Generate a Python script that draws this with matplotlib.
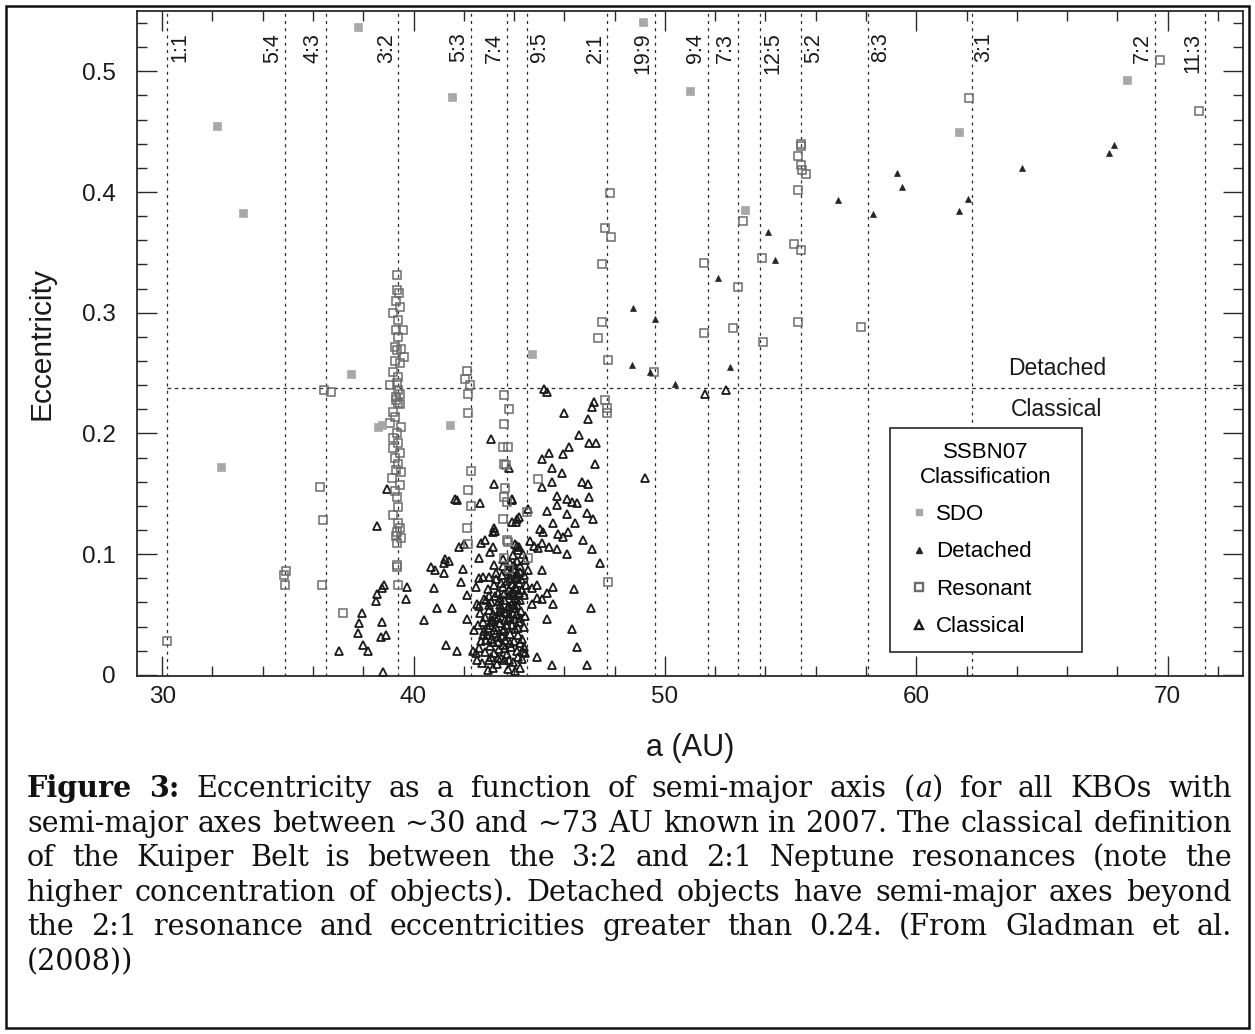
import matplotlib
matplotlib.use('Agg')
import matplotlib.pyplot as plt
import matplotlib.transforms as mtransforms
from matplotlib.lines import Line2D
from matplotlib.patches import Rectangle
from matplotlib.ticker import MultipleLocator, FuncFormatter

SANS = 'Liberation Sans'
SERIF = 'DejaVu Serif'

# ---- data ----
res_labels = ['1:1', '5:4', '4:3', '3:2', '5:3', '7:4', '9:5', '2:1', '19:9', '9:4',
              '7:3', '12:5', '5:2', '8:3', '3:1', '7:2', '11:3']
res_a = [30.2, 34.9, 36.5, 39.4, 42.3, 43.7, 44.5, 47.7, 49.6, 51.7,
         52.9, 53.8, 55.4, 58.1, 62.2, 69.5, 71.5]
divide_e = 0.238

sdo_a = [32.2, 33.2, 37.8, 41.55, 49.15, 51.0, 53.2, 61.7, 68.4, 32.35, 37.5, 38.6,
         38.75, 41.45, 44.7]
sdo_e = [0.455, 0.383, 0.537, 0.479, 0.541, 0.484, 0.385, 0.450, 0.493, 0.172, 0.249, 0.205,
         0.207, 0.207, 0.266]

det_a = [54.1, 54.4, 52.1, 48.75, 49.6, 56.9, 59.25, 59.45, 58.3, 62.05, 61.7, 64.2,
         67.85, 67.65, 48.7, 49.4, 50.4, 52.6]
det_e = [0.367, 0.344, 0.329, 0.304, 0.295, 0.393, 0.416, 0.404, 0.382, 0.394, 0.384, 0.420,
         0.439, 0.432, 0.257, 0.251, 0.241, 0.255]

res_obj_a = [
    30.2, 34.86, 34.94, 34.9, 36.45, 36.7, 36.3, 36.4, 36.37, 37.2,
    # 3:2
    39.36, 39.33, 39.42, 39.2, 39.4, 39.6, 39.3, 39.4, 39.25, 39.36, 39.63, 39.47,
    39.2, 39.4, 39.08, 39.36, 39.4, 39.3, 39.4, 39.47, 39.2, 39.28, 39.08, 39.36,
    39.2, 39.4, 39.2, 39.47, 39.28, 39.4, 39.15, 39.47, 39.36, 39.38, 39.2, 39.4,
    39.36, 39.5, 39.36, 39.36, 39.4, 39.36, 39.45, 39.3, 39.5, 39.25, 39.45, 39.3,
    39.5, 39.3, 39.5, 39.25, 39.45, 39.3,
    # 5:3
    42.14, 42.05, 42.26, 42.18, 42.18, 42.3, 42.18, 42.3, 42.14, 42.18,
    # 7:4
    43.6, 43.78, 43.6, 43.57, 43.74, 43.6, 43.68, 43.65, 43.6, 43.7, 43.57, 43.7,
    43.74, 43.6, 43.78,
    # 9:5
    44.5, 44.97, 44.55,
    # 2:1
    47.8, 47.6, 47.85, 47.5, 47.5, 47.35, 47.75, 47.6, 47.7, 47.7, 47.73,
    # outer resonances
    49.55, 51.55, 51.55, 53.1, 52.9, 52.7, 53.85, 53.9,
    55.4, 55.4, 55.3, 55.4, 55.45, 55.6, 55.3, 55.15, 55.4, 55.3,
    57.8, 62.1, 69.7, 71.25]
res_obj_e = [
    0.028, 0.083, 0.086, 0.074, 0.236, 0.234, 0.156, 0.128, 0.074, 0.051,
    0.331, 0.319, 0.316, 0.300, 0.294, 0.286, 0.286, 0.280, 0.272, 0.269, 0.263, 0.258,
    0.251, 0.247, 0.240, 0.242, 0.236, 0.230, 0.225, 0.224, 0.218, 0.214, 0.209, 0.200,
    0.196, 0.192, 0.188, 0.184, 0.180, 0.175, 0.163, 0.157, 0.147, 0.139, 0.132, 0.126,
    0.118, 0.113, 0.109, 0.091, 0.074, 0.089, 0.305, 0.310, 0.270, 0.260, 0.233, 0.228,
    0.205, 0.170, 0.168, 0.152, 0.122, 0.115,
    0.252, 0.245, 0.240, 0.233, 0.217, 0.169, 0.153, 0.140, 0.122, 0.108,
    0.232, 0.220, 0.208, 0.189, 0.189, 0.175, 0.174, 0.155, 0.147, 0.143, 0.129, 0.112,
    0.110, 0.097, 0.088,
    0.135, 0.162, 0.097,
    0.399, 0.370, 0.363, 0.340, 0.292, 0.279, 0.261, 0.228, 0.221, 0.217, 0.077,
    0.251, 0.341, 0.283, 0.376, 0.321, 0.287, 0.345, 0.276,
    0.438, 0.440, 0.430, 0.422, 0.418, 0.415, 0.402, 0.357, 0.352, 0.292,
    0.288, 0.478, 0.509, 0.467]

cls_a = [
    # scattered, inner side
    37.05, 37.8, 37.85, 37.96, 38.0, 38.2, 38.5, 38.55, 38.76, 38.84, 38.76, 38.7,
    38.9, 38.8, 38.56, 38.96, 39.75, 39.7, 40.4, 40.8, 40.95, 41.55, 41.3, 41.75,
    40.7, 40.87, 41.2, 41.27, 41.4, 41.2, 41.65, 41.72, 41.8, 42.0, 41.95, 41.9,
    42.14, 42.5, 42.6, 42.66, 43.1, 43.2, 43.8, 43.93, 42.6, 42.75, 43.0, 42.54,
    42.62, 42.9, 43.0, 42.14, 42.4, 42.35, 42.5, 42.54, 43.0, 43.18, 43.6, 44.25,
    43.2, 43.15, 43.25, 43.15, 44.2, 44.06, 43.93, 44.2, 44.13, 42.85, 43.05, 42.7,
    # scattered, outer side
    45.2, 45.3, 45.97, 47.2, 47.1, 46.96, 46.57, 46.2, 47.0, 47.28, 45.4, 45.13,
    45.96, 45.5, 45.9, 47.24, 45.13, 45.5, 46.7, 46.96, 43.9, 45.7, 46.1, 46.3,
    46.5, 47.0, 45.33, 45.7, 46.1, 46.9, 47.16, 44.57, 44.1, 45.56, 46.44, 45.05,
    45.17, 45.76, 45.96, 46.16, 46.76, 47.1, 47.4, 45.4, 45.7, 46.1, 45.13, 44.8,
    44.96, 44.65, 45.1, 44.7, 44.9, 45.56, 46.4, 44.9, 45.3, 44.7, 45.1, 45.56,
    47.08, 45.33, 46.3, 46.5, 44.9, 45.5, 46.9, 44.25, 44.57, 44.4, 44.35, 44.17,
    49.2, 51.6, 52.45,
    # dense core
    42.72, 42.95, 43.32, 43.48, 43.75, 43.95, 44.05, 44.3, 43.1,
    42.62, 42.85, 43.05, 43.22, 43.4, 43.58, 43.72, 43.88, 44.1, 44.22, 44.45,
    42.7, 42.92, 43.1, 43.27, 43.35, 43.52, 43.66, 43.82, 43.98, 44.15, 44.32, 42.8,
    42.55, 42.76, 42.98, 43.12, 43.3, 43.45, 43.6, 43.74, 43.9, 44.04, 44.2, 44.4, 43.2,
    42.66, 42.85, 43.02, 43.18, 43.36, 43.5, 43.68, 43.85, 43.97, 44.1, 44.28, 44.45, 43.42,
    42.8, 43.08, 43.26, 43.44, 43.62, 43.78, 43.92, 44.02, 44.12, 44.25, 44.4, 43.95,
    42.95, 43.2, 43.38, 43.58, 43.8, 43.9, 44.0, 44.08, 44.18, 44.32, 44.48,
    43.3, 43.52, 43.72, 43.88, 44.02, 44.12, 44.26, 44.38,
    43.55, 43.82, 44.0, 44.1, 44.24, 44.42,
    43.95, 44.15, 44.35, 44.05,
    43.15, 43.35, 43.55, 43.7, 43.85, 44.0, 44.15, 43.25, 43.45, 43.65,
    43.8, 43.95, 44.1, 43.05, 43.4, 43.6, 43.75, 43.9, 44.05, 44.2,
    43.3, 43.5, 43.7, 43.85, 44.0, 43.2, 43.55, 43.9, 44.1, 43.65,
    42.9, 43.1, 42.75, 43.0, 43.35, 43.8, 44.25, 44.0, 43.6, 43.45]
cls_e = [
    0.020, 0.035, 0.043, 0.051, 0.025, 0.020, 0.061, 0.067, 0.072, 0.074, 0.044, 0.031,
    0.033, 0.002, 0.123, 0.154, 0.073, 0.063, 0.045, 0.072, 0.055, 0.055, 0.025, 0.020,
    0.089, 0.087, 0.084, 0.096, 0.094, 0.093, 0.146, 0.145, 0.106, 0.108, 0.088, 0.077,
    0.066, 0.073, 0.097, 0.142, 0.195, 0.158, 0.171, 0.145, 0.080, 0.081, 0.081, 0.059,
    0.057, 0.062, 0.065, 0.046, 0.037, 0.020, 0.018, 0.012, 0.012, 0.006, 0.012, 0.006,
    0.122, 0.118, 0.119, 0.106, 0.131, 0.127, 0.127, 0.106, 0.107, 0.112, 0.102, 0.109,
    0.237, 0.234, 0.217, 0.226, 0.222, 0.212, 0.199, 0.189, 0.192, 0.192, 0.184, 0.179,
    0.183, 0.171, 0.167, 0.175, 0.156, 0.160, 0.160, 0.158, 0.146, 0.148, 0.146, 0.143,
    0.142, 0.147, 0.136, 0.141, 0.133, 0.134, 0.129, 0.137, 0.129, 0.126, 0.126, 0.121,
    0.118, 0.117, 0.114, 0.118, 0.112, 0.104, 0.093, 0.106, 0.104, 0.100, 0.109, 0.107,
    0.105, 0.111, 0.087, 0.072, 0.074, 0.073, 0.071, 0.064, 0.068, 0.059, 0.063, 0.059,
    0.055, 0.046, 0.038, 0.023, 0.015, 0.008, 0.008, 0.085, 0.087, 0.023, 0.019, 0.015,
    0.163, 0.233, 0.236,
    0.010, 0.004, 0.009, 0.014, 0.005, 0.011, 0.003, 0.013, 0.015,
    0.022, 0.019, 0.024, 0.018, 0.021, 0.025, 0.017, 0.023, 0.020, 0.026, 0.018,
    0.028, 0.033, 0.030, 0.035, 0.027, 0.032, 0.029, 0.034, 0.028, 0.033, 0.030, 0.036,
    0.041, 0.044, 0.039, 0.045, 0.040, 0.043, 0.038, 0.046, 0.041, 0.038, 0.044, 0.040, 0.037,
    0.051, 0.048, 0.054, 0.050, 0.047, 0.055, 0.051, 0.048, 0.055, 0.050, 0.053, 0.049, 0.052,
    0.063, 0.060, 0.065, 0.058, 0.062, 0.066, 0.059, 0.064, 0.058, 0.062, 0.066, 0.066,
    0.071, 0.074, 0.068, 0.073, 0.070, 0.075, 0.068, 0.072, 0.076, 0.070, 0.074,
    0.079, 0.083, 0.078, 0.085, 0.080, 0.084, 0.079, 0.083,
    0.090, 0.093, 0.088, 0.094, 0.090, 0.095,
    0.099, 0.103, 0.100, 0.108,
    0.027, 0.031, 0.036, 0.041, 0.026, 0.046, 0.039, 0.048, 0.054, 0.045,
    0.057, 0.050, 0.062, 0.041, 0.061, 0.067, 0.056, 0.069, 0.073, 0.068,
    0.084, 0.076, 0.086, 0.079, 0.091, 0.091, 0.096, 0.083, 0.081, 0.022,
    0.029, 0.044, 0.033, 0.058, 0.014, 0.012, 0.047, 0.058, 0.052, 0.064]

caption = [
    'Figure 3: Eccentricity as a function of semi-major axis (a) for all KBOs with',
    'semi-major axes between ~30 and ~73 AU known in 2007. The classical definition',
    'of the Kuiper Belt is between the 3:2 and 2:1 Neptune resonances (note the',
    'higher concentration of objects). Detached objects have semi-major axes beyond',
    'the 2:1 resonance and eccentricities greater than 0.24. (From Gladman et al.',
    '(2008))',
]

# ---- styles ----
W, H = 1255, 1034
SDO_C = '#a8a8a8'
RES_C = '#6c6c6c'
CLS_C = '#1a1a1a'
DET_C = '#262626'
LINE_C = '#2a2a2a'
LABEL_RIGHT = {'1:1', '9:5', '12:5', '5:2', '8:3', '3:1'}

fig = plt.figure(figsize=(W / 100, H / 100), dpi=100)
ax = fig.add_axes([137 / W, 1 - 676 / H, (1243 - 137) / W, (676 - 11) / H])

for a in res_a:
    ax.axvline(a, color=LINE_C, lw=0.9, ls=(0, (2.4, 3.4)), zorder=1)
ax.hlines(divide_e, res_a[0], 73, color=LINE_C, lw=0.9, ls=(0, (2.9, 2.9)), zorder=1)

ax.plot(cls_a, cls_e, ls='none', marker='^', ms=5.8, mfc='none', mec=CLS_C, mew=1.3, zorder=3)
ax.plot(res_obj_a, res_obj_e, ls='none', marker='s', ms=6.0, mfc='none', mec=RES_C, mew=1.1, zorder=4)
ax.plot(det_a, det_e, ls='none', marker='^', ms=4.4, mfc=DET_C, mec=DET_C, mew=0.5, zorder=5)
ax.plot(sdo_a, sdo_e, ls='none', marker='s', ms=5.6, mfc=SDO_C, mec=SDO_C, mew=0.5, zorder=5)

for a, lab in zip(res_a, res_labels):
    right = lab in LABEL_RIGHT
    tr = mtransforms.offset_copy(ax.transData, fig=fig, x=1.5 if right else -1.2, y=0, units='points')
    ax.text(a, 0.532, lab, rotation=90, ha='left' if right else 'right', va='top',
            transform=tr, fontsize=15.5, family=SANS, color='#1a1a1a')

ax.text(65.6, 0.2535, 'Detached', ha='center', va='center', fontsize=16.5, family=SANS, color='#1a1a1a')
ax.text(65.6, 0.220, 'Classical', ha='center', va='center', fontsize=16.5, family=SANS, color='#1a1a1a')

ax.set_xlim(29, 73)
ax.set_ylim(-0.001, 0.55)
ax.xaxis.set_major_locator(MultipleLocator(10))
ax.xaxis.set_minor_locator(MultipleLocator(2))
ax.yaxis.set_major_locator(MultipleLocator(0.1))
ax.yaxis.set_minor_locator(MultipleLocator(0.02))
ax.yaxis.set_major_formatter(FuncFormatter(lambda v, p: '0' if abs(v) < 1e-9 else f'{v:.1f}'))
ax.tick_params(which='both', direction='in', top=True, right=True, color='#2a2a2a', width=1.0,
               labelsize=17.5, labelcolor='#1a1a1a')
ax.tick_params(which='major', length=14.5)
ax.tick_params(which='minor', length=7.2)
ax.tick_params(axis='x', pad=7)
ax.tick_params(axis='y', pad=15.5)
for lbl in ax.get_xticklabels() + ax.get_yticklabels():
    lbl.set_family(SANS)
for sp in ax.spines.values():
    sp.set_color('#2a2a2a')
    sp.set_linewidth(1.3)

ax.set_xlabel('a (AU)', fontsize=22, family=SANS, color='#1a1a1a')
ax.xaxis.set_label_coords(0.5, -0.0855)
ax.set_ylabel('Eccentricity', fontsize=21.5, family=SANS, color='#1a1a1a')
ax.yaxis.set_label_coords(-0.074, 0.5)

handles = [
    Line2D([], [], ls='none', marker='s', ms=5.0, mfc=SDO_C, mec=SDO_C, label='SDO'),
    Line2D([], [], ls='none', marker='^', ms=4.4, mfc=DET_C, mec=DET_C, label='Detached'),
    Line2D([], [], ls='none', marker='s', ms=5.4, mfc='none', mec=RES_C, mew=1.7, label='Resonant'),
    Line2D([], [], ls='none', marker='^', ms=5.6, mfc='none', mec=CLS_C, mew=1.7, label='Classical'),
]
leg = ax.legend(handles=handles, title='SSBN07\nClassification', loc='upper left',
                bbox_to_anchor=(0.681, 0.036, 0.173, 0.337), mode='expand', borderaxespad=0,
                borderpad=0.65, handlelength=1.3, handletextpad=0.12, labelspacing=0.74,
                prop={'family': SANS, 'size': 16}, title_fontproperties={'family': SANS, 'size': 16},
                frameon=True, fancybox=False, framealpha=1, edgecolor='#2a2a2a')
leg.get_frame().set_linewidth(1.2)
leg.get_title().set_multialignment('center')

# ---- caption, justified line by line ----
renderer = fig.canvas.get_renderer()
special = {'Figure': [('Figure', 'bold', 'normal')], '3:': [('3:', 'bold', 'normal')],
           '(a)': [('(', 'normal', 'normal'), ('a', 'normal', 'italic'), (')', 'normal', 'normal')]}


def seg_width(text, weight, style, size):
    t = fig.text(0, 0, text, fontsize=size, family=SERIF, weight=weight, style=style)
    w = t.get_window_extent(renderer).width
    t.remove()
    return w


def line_segments(i, line):
    out = []
    for w in line.split(' '):
        if i == 0 and w in special:
            out.append(special[w])
        else:
            out.append([(w, 'normal', 'normal')])
    return out


left, right = 27, 1232
first_base, line_step = 797, 34.6

# pick the font size so that the longest line sits at its natural word spacing
base_fs = 20
sp_base = seg_width('a a', 'normal', 'normal', base_fs) - 2 * seg_width('a', 'normal', 'normal', base_fs)
natural = []
for i, line in enumerate(caption[:-1]):
    segs = line_segments(i, line)
    natural.append(sum(seg_width(*s, base_fs) for ws in segs for s in ws) + sp_base * (len(segs) - 1))
CAP_FS = base_fs * (right - left) / max(natural) * 0.995
space_w = sp_base * CAP_FS / base_fs

for i, line in enumerate(caption):
    segs = line_segments(i, line)
    widths = [sum(seg_width(*s, CAP_FS) for s in ws) for ws in segs]
    if i < len(caption) - 1:
        gap = (right - left - sum(widths)) / (len(segs) - 1)
    else:
        gap = space_w
    x = left
    y = first_base + i * line_step
    for ws, wd in zip(segs, widths):
        xx = x
        for text, weight, style in ws:
            fig.text(xx / W, 1 - y / H, text, fontsize=CAP_FS, family=SERIF, weight=weight,
                     style=style, ha='left', va='baseline', color='#111111')
            xx += seg_width(text, weight, style, CAP_FS)
        x += wd + gap

fig.add_artist(Rectangle((6 / W, 1 - 1028 / H), (1249 - 6) / W, (1028 - 6) / H,
                         transform=fig.transFigure, fill=False, lw=1.8, ec='#111111'))

fig.savefig('out.png', dpi=100)
